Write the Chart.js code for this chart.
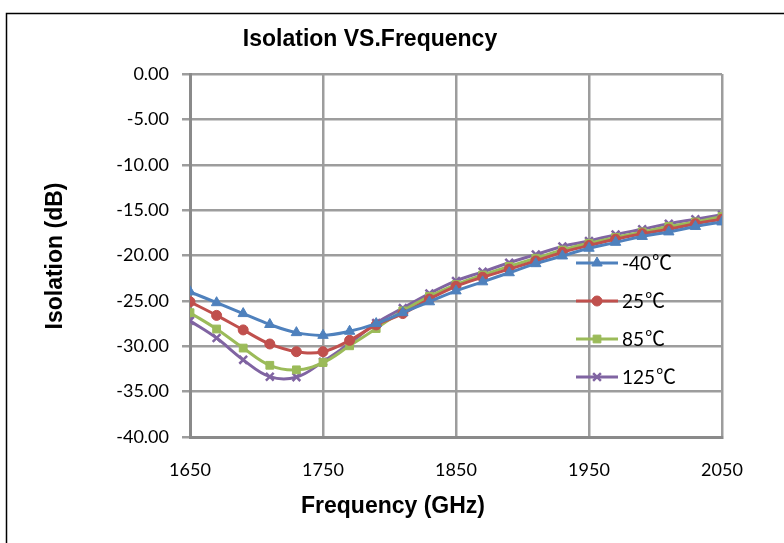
<!DOCTYPE html>
<html>
<head>
<meta charset="utf-8">
<script src="https://cdn.jsdelivr.net/npm/chart.js@4/dist/chart.umd.min.js"></script>
<style>
  html, body { margin: 0; padding: 0; background: #fff; }
  #wrap { width: 784px; height: 543px; position: relative; }
</style>
</head>
<body>
<div id="wrap"><canvas id="cv"></canvas></div>
<script>
const freq = [1650, 1670, 1690, 1710, 1730, 1750, 1770, 1790, 1810, 1830, 1850,
  1870, 1890, 1910, 1930, 1950, 1970, 1990, 2010, 2030, 2050];
const isoM40 = [-24.0, -25.2, -26.4, -27.6, -28.5, -28.8, -28.35, -27.5, -26.3, -25.1, -23.9,
  -22.9, -21.9, -20.9, -20.05, -19.2, -18.55, -17.9, -17.4, -16.8, -16.3];
const iso25 = [-25.1, -26.6, -28.2, -29.75, -30.6, -30.6, -29.35, -27.65, -26.4, -24.8, -23.4,
  -22.4, -21.5, -20.6, -19.65, -18.9, -18.2, -17.6, -17.1, -16.5, -16.0];
const iso85 = [-26.3, -28.1, -30.2, -32.1, -32.6, -31.8, -29.95, -28.05, -26.1, -24.5, -23.2,
  -22.15, -21.2, -20.3, -19.4, -18.65, -18.0, -17.4, -16.8, -16.3, -15.7];
const iso125 = [-27.2, -29.1, -31.5, -33.35, -33.4, -31.7, -29.7, -27.45, -25.8, -24.2, -22.8,
  -21.8, -20.8, -19.9, -19.0, -18.4, -17.7, -17.1, -16.5, -16.0, -15.5];
const seriesNames = ["-40℃", "25℃", "85℃", "125℃"];
const yTicks = [0, -5, -10, -15, -20, -25, -30, -35, -40];
const xTicks = [1650, 1750, 1850, 1950, 2050];

const chartTitle = "Isolation VS.Frequency";
const xTitle = "Frequency (GHz)";
const yTitle = "Isolation (dB)";

const tickFont = "Lato, 'Open Sans', sans-serif";

function pts(vals) {
  return freq.map((f, i) => ({ x: f, y: vals[i] }));
}

function mkSet(name, vals, color, style, r, bw) {
  return {
    label: name,
    data: pts(vals),
    borderColor: color,
    backgroundColor: color,
    borderWidth: 3,
    tension: 0.4,
    pointStyle: style,
    pointRadius: r,
    pointBorderWidth: bw,
    pointBackgroundColor: color,
    pointBorderColor: color,
  };
}

// frame, titles and legend drawn by hand
const decor = {
  id: "decor",
  beforeDraw(chart) {
    let ctx = chart.ctx;
    ctx.save();
    ctx.fillStyle = "#fff";
    ctx.fillRect(0, 0, chart.width, chart.height);
    ctx.strokeStyle = "#000";
    ctx.lineWidth = 1.5;
    ctx.strokeRect(6.5, 13.5, 900, 700);
    ctx.restore();
  },
  afterDraw(chart) {
    let ctx = chart.ctx;
    ctx.save();
    ctx.fillStyle = "#000";
    ctx.font = "bold 23px 'Liberation Sans', Arial, sans-serif";
    ctx.textAlign = "center";
    ctx.textBaseline = "middle";
    ctx.fillText(chartTitle, 370, 40);
    ctx.fillText(xTitle, 393, 507);
    ctx.save();
    ctx.translate(56, 256);
    ctx.rotate(-Math.PI / 2);
    ctx.fillText(yTitle, 0, 0);
    ctx.restore();

    ctx.textAlign = "left";
    chart.data.datasets.forEach((ds, i) => {
      let y = 263 + i * 38;
      ctx.strokeStyle = ds.borderColor;
      ctx.lineWidth = 3;
      ctx.beginPath();
      ctx.moveTo(576, y);
      ctx.lineTo(618, y);
      ctx.stroke();
      ctx.fillStyle = ds.pointBackgroundColor;
      ctx.strokeStyle = ds.pointBorderColor;
      ctx.lineWidth = ds.pointBorderWidth;
      Chart.helpers.drawPoint(ctx, {
        pointStyle: ds.pointStyle,
        radius: ds.pointRadius,
        borderWidth: ds.pointBorderWidth,
        rotation: 0,
      }, 597, y);
      // number part and the degree sign in a CJK face, like the original
      let num = ds.label.replace("℃", "");
      ctx.fillStyle = "#000";
      ctx.font = "19px " + tickFont;
      ctx.fillText(num, 622, y + 1);
      let w = ctx.measureText(num).width;
      ctx.font = "20px 'Noto Sans CJK SC', sans-serif";
      ctx.fillText("℃", 622 + w + 1, y - 1);
    });
    ctx.restore();
  },
};

const gridColor = "#9d9d9d";

new Chart(document.getElementById("cv"), {
  type: "line",
  data: {
    datasets: [
      mkSet(seriesNames[0], isoM40, "#4F81BD", "triangle", 6, 1),
      mkSet(seriesNames[1], iso25, "#C0504D", "circle", 5, 1),
      mkSet(seriesNames[2], iso85, "#9BBB59", "rect", 5.5, 1),
      mkSet(seriesNames[3], iso125, "#8064A2", "crossRot", 5.5, 2.5),
    ],
  },
  options: {
    responsive: true,
    maintainAspectRatio: false,
    animation: false,
    devicePixelRatio: 1,
    layout: {
      padding: { left: 0, top: 74, right: 62, bottom: 0 },
    },
    plugins: {
      legend: { display: false },
      title: { display: false },
      tooltip: { enabled: false },
    },
    scales: {
      x: {
        type: "linear",
        min: 1650,
        max: 2050,
        afterBuildTicks: (s) => { s.ticks = xTicks.map((v) => ({ value: v })); },
        afterFit: (s) => { s.height = 106; },
        ticks: {
          color: "#000",
          padding: 22,
          font: { family: tickFont, size: 18 },
          maxRotation: 0,
          callback: (v) => String(v),
        },
        grid: {
          color: gridColor,
          lineWidth: 2.5,
          drawTicks: false,
        },
        border: { color: "#8a8a8a", width: 3 },
      },
      y: {
        min: -40,
        max: 0,
        afterBuildTicks: (s) => { s.ticks = yTicks.map((v) => ({ value: v })); },
        afterFit: (s) => { s.width = 190; },
        ticks: {
          color: "#000",
          padding: 13,
          font: { family: tickFont, size: 18 },
          callback: (v) => Number(v).toFixed(2),
        },
        grid: {
          color: gridColor,
          lineWidth: 2.5,
          tickLength: 8,
          drawTicks: true,
        },
        border: { color: "#8a8a8a", width: 3 },
      },
    },
  },
  plugins: [decor],
});
</script>
</body>
</html>
